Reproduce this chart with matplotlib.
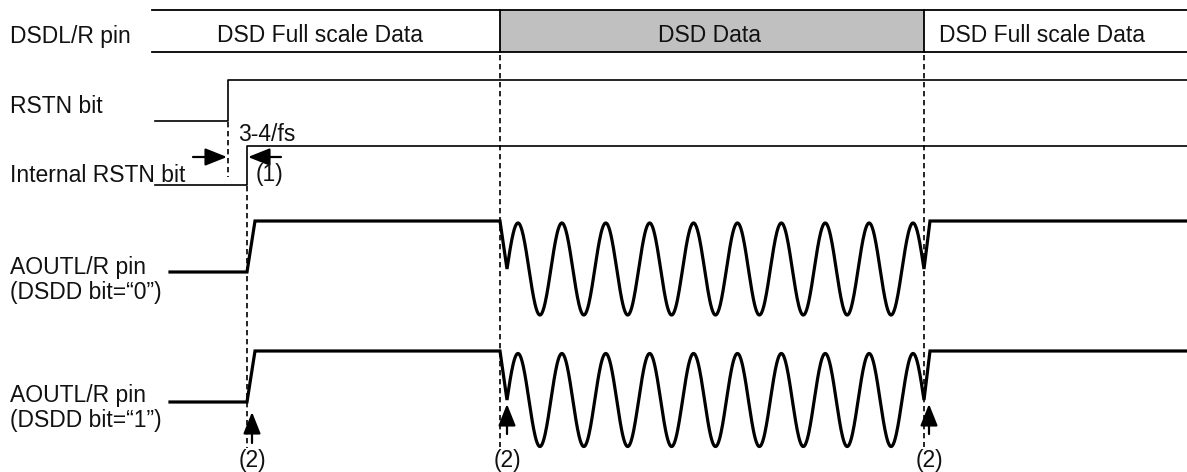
import numpy as np
import matplotlib
matplotlib.use("Agg")
import matplotlib.pyplot as plt

plt.rcParams['font.family'] = ['Liberation Sans', 'DejaVu Sans']

# ---- data (pixel-space timing diagram) ----
row_labels = ["DSDL/R pin", "RSTN bit", "Internal RSTN bit",
              "AOUTL/R pin", "(DSDD bit=\u201c0\u201d)",
              "AOUTL/R pin", "(DSDD bit=\u201c1\u201d)"]
row_label_y = [43, 113, 182, 274, 299, 402, 427]

bus_names = ["DSD Full scale Data", "DSD Data", "DSD Full scale Data"]
bus_edges = [152, 500, 924, 1187]
bus_text_x = [320, 710, 1042]
bus_fill = ["white", "#c0c0c0", "white"]
bus_top, bus_bot = 10, 52

rstn_x = [155, 228, 228, 1187]
rstn_level = [121, 121, 80, 80]
irstn_x = [155, 247, 247, 1187]
irstn_level = [185, 185, 146, 146]

aout_high = [221, 351]
aout_low = [272, 402]
aout_mid = [269, 400]
aout_amp = [46, 46.5]
aout_start = 170
aout_rise = (247, 255)
data_start, data_first_mid = 500, 507
data_end, data_last_rise = 924, 930
wave_cycles = 9.5

dashed_x = [228, 247, 500, 924]
dashed_y0 = [122, 186, 55, 55]
dashed_y1 = [177, 463, 447, 447]

note2_x = [252, 507, 929]
note2_tip = [412, 404, 404]
note2_tail = [443, 434, 434]

fs = 16.5

fig = plt.figure(figsize=(11.87, 4.72), dpi=100)
ax = fig.add_axes([0, 0, 1, 1])
ax.set_xlim(0, 1187)
ax.set_ylim(472, 0)
ax.axis('off')

# labels
for lab, y in zip(row_labels, row_label_y):
    ax.text(10, y, lab, fontsize=fs, va='baseline', ha='left', color='#111111')

# bus
for i, name in enumerate(bus_names):
    x0, x1 = bus_edges[i], bus_edges[i + 1]
    ax.fill_between([x0, x1], bus_top, bus_bot, color=bus_fill[i], lw=0, zorder=1)
    ax.text(bus_text_x[i], 42, name, fontsize=fs, ha='center', va='baseline', color='#111111', zorder=3)
ax.plot([bus_edges[0], bus_edges[-1]], [bus_top, bus_top], color='black', lw=1.3, zorder=2)
ax.plot([bus_edges[0], bus_edges[-1]], [bus_bot, bus_bot], color='black', lw=1.3, zorder=2)
for xe in bus_edges[1:-1]:
    ax.plot([xe, xe], [bus_top, bus_bot], color='black', lw=1.3, zorder=2)

# RSTN lines
ax.plot(rstn_x, rstn_level, color='black', lw=1.2)
ax.plot(irstn_x, irstn_level, color='black', lw=1.2)

# dashed lines
for x, y0, y1 in zip(dashed_x, dashed_y0, dashed_y1):
    ax.plot([x, x], [y0, y1], color='black', lw=1.2, ls=(0, (3.2, 2.2)), zorder=2)

# (1) arrows
ap = dict(arrowstyle='-|>,head_length=0.95,head_width=0.38', color='black', lw=1.6,
          shrinkA=0, shrinkB=0, mutation_scale=14)
ax.annotate('', xy=(227, 157), xytext=(193, 157), arrowprops=ap)
ax.annotate('', xy=(248, 157), xytext=(281, 157), arrowprops=ap)
ax.text(238, 141, "3-4/fs", fontsize=fs, ha='left', va='baseline', color='#111111')
ax.text(256, 181, "(1)", fontsize=fs, ha='left', va='baseline', color='#111111')

# AOUT waveforms
P = (data_end - data_first_mid) / wave_cycles
for k in range(2):
    xs = np.linspace(data_first_mid, data_end, 800)
    ys = aout_mid[k] - aout_amp[k] * np.sin(2 * np.pi * (xs - data_first_mid) / P)
    X = np.concatenate([[aout_start, aout_rise[0], aout_rise[1], data_start], xs,
                        [data_last_rise, 1187]])
    Y = np.concatenate([[aout_low[k], aout_low[k], aout_high[k], aout_high[k]], ys,
                        [aout_high[k], aout_high[k]]])
    ax.plot(X, Y, color='black', lw=2.3, solid_joinstyle='miter', zorder=3)

# (2) arrows
for x, tip, tail in zip(note2_x, note2_tip, note2_tail):
    ax.annotate('', xy=(x, tip), xytext=(x, tail), arrowprops=ap, zorder=4)
    ax.text(x, 467, "(2)", fontsize=fs, ha='center', va='baseline', color='#111111',
            bbox=dict(facecolor='white', edgecolor='none', pad=0.5))

fig.savefig("out.png", dpi=100)
